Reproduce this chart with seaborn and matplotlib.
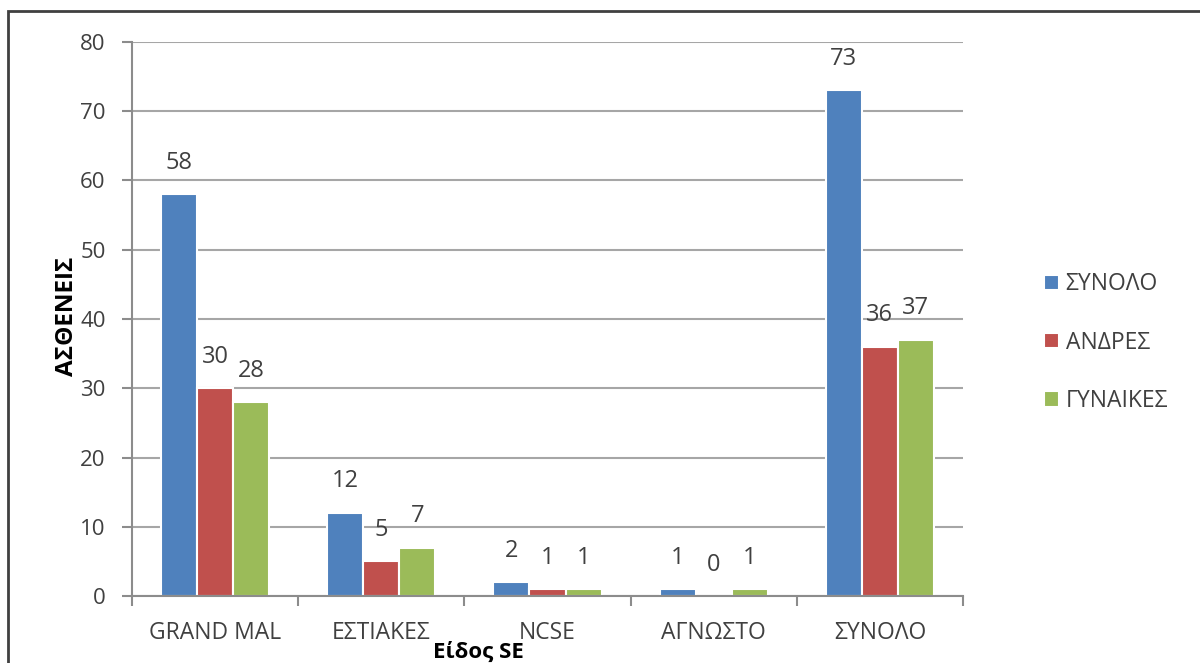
import matplotlib
matplotlib.use("Agg")
import matplotlib.pyplot as plt
from matplotlib.patches import Rectangle
from matplotlib.ticker import FixedLocator
import pandas as pd
import seaborn as sns

# Status epilepticus types and patient counts per group
categories = ["GRAND MAL", "ΕΣΤΙΑΚΕΣ", "NCSE", "ΑΓΝΩΣΤΟ", "ΣΥΝΟΛΟ"]
series_names = ["ΣΥΝΟΛΟ", "ΑΝΔΡΕΣ", "ΓΥΝΑΙΚΕΣ"]
total = [58, 12, 2, 1, 73]
men = [30, 5, 1, 0, 36]
women = [28, 7, 1, 1, 37]
y_ticks = [0, 10, 20, 30, 40, 50, 60, 70, 80]

colors = ["#4F81BD", "#C0504D", "#9BBB59"]
text_color = "#404040"
grid_color = "#A6A6A6"

sns.set_theme(style="white")
plt.rcParams["font.family"] = ["Open Sans", "DejaVu Sans"]

rows = []
for name, vals in zip(series_names, [total, men, women]):
    for cat, v in zip(categories, vals):
        rows.append({"cat": cat, "series": name, "value": v})
df = pd.DataFrame(rows)

fig = plt.figure(figsize=(12, 6.63), dpi=100)
ax = fig.add_axes([0.11, 0.101, 0.6925, 0.8357])

sns.barplot(data=df, x="cat", y="value", hue="series", order=categories,
            hue_order=series_names, palette=colors, saturation=1,
            width=0.65, edgecolor="white", linewidth=1.5, ax=ax)

ax.set_ylim(0, 80)
ax.set_xlim(-0.5, len(categories) - 0.5)
ax.yaxis.set_major_locator(FixedLocator(y_ticks))
ax.grid(axis="y", color=grid_color, linewidth=1.5)
ax.set_axisbelow(True)

for side in ["top", "right"]:
    ax.spines[side].set_visible(False)
for side in ["left", "bottom"]:
    ax.spines[side].set_color("#8C8C8C")
    ax.spines[side].set_linewidth(1.5)

# category boundary ticks on the x axis
ax.set_xticks([i - 0.5 for i in range(len(categories) + 1)], minor=True)
ax.tick_params(axis="x", which="major", length=0, pad=18,
               labelsize=16.5, labelcolor=text_color)
ax.tick_params(axis="x", which="minor", length=7, width=1.5,
               color="#8C8C8C", direction="out")
ax.tick_params(axis="y", which="major", length=7, width=1.5,
               color="#8C8C8C", direction="out", pad=12,
               labelsize=16, labelcolor=text_color)
ax.tick_params(axis="x", bottom=True, which="both")
ax.tick_params(axis="y", left=True)

for cont in ax.containers:
    ax.bar_label(cont, fmt="%d", padding=14, fontsize=17, color=text_color)

ax.set_xlabel("")
ax.set_ylabel("")
fig.text(0.399, 0.0, "Είδος SE", fontsize=16, fontweight="bold",
         color="black", ha="center", va="bottom")
fig.text(0.056, 0.523, "ΑΣΘΕΝΕΙΣ", fontsize=17.5, fontweight="bold",
         color="black", rotation=90, ha="center", va="center")

handles, labels = ax.get_legend_handles_labels()
ax.legend(handles, labels, loc="center left",
          bbox_to_anchor=(0.853, 0.483), bbox_transform=fig.transFigure,
          frameon=False, handlelength=0.65, handleheight=0.65,
          handletextpad=0.28, labelspacing=1.5, fontsize=16.5,
          labelcolor=text_color)

# outer chart frame
fig.patches.append(Rectangle((8 / 1200, -0.2), 1.2, 1.2 - 11 / 663,
                             transform=fig.transFigure, fill=False,
                             edgecolor="#404040", linewidth=2,
                             clip_on=False))

fig.savefig("out.png", dpi=100)
